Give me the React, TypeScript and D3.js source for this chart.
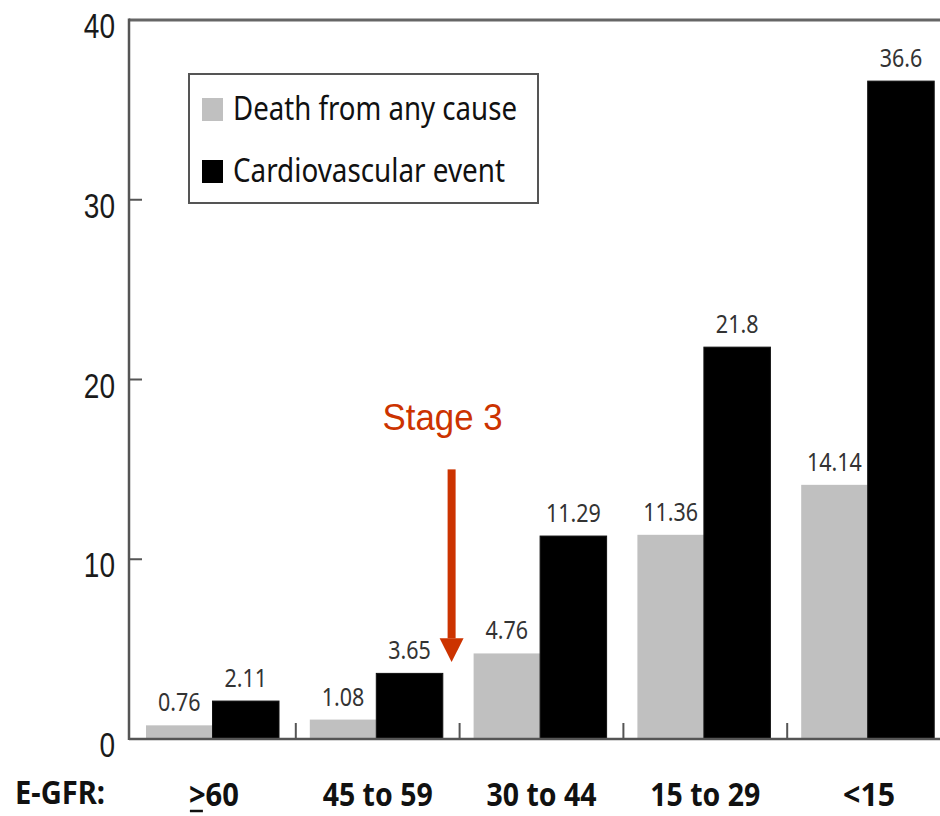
import React from "react";
import * as d3 from "d3";

const categories = [">60", "45 to 59", "30 to 44", "15 to 29", "<15"];
const deathValues = [0.76, 1.08, 4.76, 11.36, 14.14];
const cvValues = [2.11, 3.65, 11.29, 21.8, 36.6];
const yTicks = [0, 10, 20, 30, 40];
const seriesNames = ["Death from any cause", "Cardiovascular event"];
const seriesColors = ["#c0c0c0", "#000000"];
const categoryLabelWidths = [50, 110, 110, 110, 52];
const stageLabel = "Stage 3";
const stageArrow = { from: 15, headStart: 5.6, to: 4.28, labelY: 17.2 };

const W = 940;
const H = 816;
const FONT = "'Noto Sans', 'Open Sans', sans-serif";

export default function App() {
  const y = d3.scaleLinear().domain([0, 40]).range([739, 20]);
  const xGroup = d3.scaleBand<string>().domain(categories).range([132, 951]).paddingInner(0).paddingOuter(0);
  const xSeries = d3.scaleBand<number>().domain([0, 1]).range([14, 147]);
  const series = [deathValues, cvValues];
  const axisX = 129;
  const baseY = y(0);

  const arrowX = (xGroup(categories[2]) as number) - 8;

  return (
    <svg width={W} height={H} style={{ position: "absolute", left: 0, top: 0, background: "#fff" }}>
      <rect x={0} y={0} width={W} height={H} fill="#fff" />
      {/* bars */}
      {categories.map((c, i) => (
        <g key={c} transform={`translate(${xGroup(c)},0)`}>
          {series.map((vals, s) => {
            const v = vals[i];
            const bx = xSeries(s) as number;
            const bw = xSeries.bandwidth();
            return (
              <g key={s}>
                <rect x={bx} y={y(v)} width={bw} height={baseY - y(v)} fill={seriesColors[s]}
                  stroke={s === 1 ? "#111" : "none"} strokeWidth={1} />
                <text transform={`translate(${bx + bw / 2},${y(v) - 14}) scale(0.86,1)`} textAnchor="middle"
                  fontFamily={FONT} fontSize={25} fill="#333">{v}</text>
              </g>
            );
          })}
        </g>
      ))}
      {/* frame */}
      <line x1={axisX} x2={W} y1={y(40)} y2={y(40)} stroke="#666" strokeWidth={3} />
      <line x1={axisX} x2={axisX} y1={y(40) - 1.5} y2={baseY + 1} stroke="#555" strokeWidth={2.5} />
      <line x1={axisX} x2={W} y1={baseY} y2={baseY} stroke="#555" strokeWidth={2.5} />
      {/* y ticks */}
      {yTicks.map((t) => (
        <g key={t}>
          {t > 0 && t < 40 && (
            <line x1={axisX} x2={axisX + 13} y1={y(t)} y2={y(t)} stroke="#555" strokeWidth={2} />
          )}
          <text transform={`translate(115,${y(t) + 18}) scale(0.8,1)`} textAnchor="end"
            fontFamily="'Liberation Sans', Arial, sans-serif" fontSize={35} fill="#1a1a1a">{t}</text>
        </g>
      ))}
      {/* group separator ticks */}
      {categories.slice(1).map((c) => (
        <line key={c} x1={xGroup(c)} x2={xGroup(c)} y1={baseY} y2={baseY - 16} stroke="#555" strokeWidth={2} />
      ))}
      {/* x labels */}
      <text x={15} y={804} fontFamily={FONT} fontWeight="bold" fontSize={32} fill="#111"
        textLength={90} lengthAdjust="spacingAndGlyphs">E-GFR:</text>
      {categories.map((c, i) => {
        const cx = (xGroup(c) as number) + xGroup.bandwidth() / 2;
        const w = categoryLabelWidths[i];
        return (
          <g key={c}>
            <text x={cx} y={806} textAnchor="middle" fontFamily={FONT} fontWeight="bold"
              fontSize={32} fill="#111" textLength={w} lengthAdjust="spacingAndGlyphs">{c}</text>
            {c.startsWith(">") && (
              <line x1={cx - w / 2 + 1} x2={cx - w / 2 + 14} y1={811} y2={811} stroke="#111" strokeWidth={2.5} />
            )}
          </g>
        );
      })}
      {/* legend */}
      <rect x={189} y={74} width={349} height={129} fill="#fff" stroke="#555" strokeWidth={2} />
      {seriesNames.map((n, s) => (
        <g key={n} transform={`translate(202,${98 + s * 62})`}>
          <rect x={0} y={0} width={21} height={23} fill={seriesColors[s]} />
          <text x={31} y={22} fontFamily={FONT} fontSize={32} fill="#111"
            textLength={s === 0 ? 284 : 272} lengthAdjust="spacingAndGlyphs">{n}</text>
        </g>
      ))}
      {/* Stage 3 annotation */}
      <text x={arrowX - 9} y={y(stageArrow.labelY)} textAnchor="middle"
        fontFamily="'Liberation Sans', Arial, sans-serif" fontSize={37} fill="#cc3300"
        textLength={120} lengthAdjust="spacingAndGlyphs">{stageLabel}</text>
      <rect x={arrowX - 4} y={y(stageArrow.from)} width={8} height={y(stageArrow.headStart) - y(stageArrow.from)} fill="#cc3300" />
      <path d={`M${arrowX - 12},${y(stageArrow.headStart)} L${arrowX + 12},${y(stageArrow.headStart)} L${arrowX},${y(stageArrow.to)} Z`} fill="#cc3300" />
    </svg>
  );
}
